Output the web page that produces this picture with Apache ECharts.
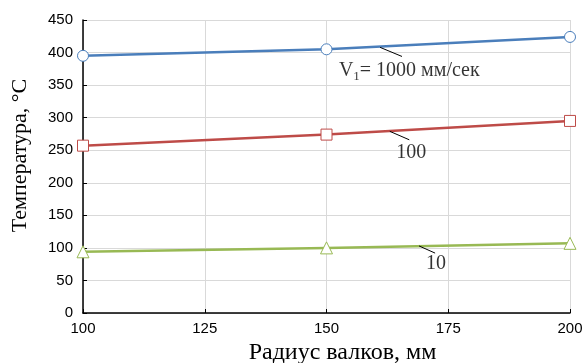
<!DOCTYPE html>
<html>
<head>
<meta charset="utf-8">
<script src="https://cdn.jsdelivr.net/npm/echarts@6/dist/echarts.min.js"></script>
<style>
  html, body { margin: 0; padding: 0; background: #fff; }
  #chart { width: 584px; height: 363px; }
</style>
</head>
<body>
<div id="chart"></div>
<script>
const radius = [100, 150, 200]
const v1000 = [395, 405, 424]
const v100 = [257, 274, 295]
const v10 = [94, 100, 107]

// labels: [x, y] in data units, and leader lines from curve to label
const labelPos = [[167, 372], [167.4, 246], [172.5, 76]]
const labelText = ['{a|V}{s|1}{a|= 1000 мм/сек}', '{a|100}', '{a|10}']
const leaders = [
  [[161, 408], [165.5, 394]],
  [[163, 279], [167, 266]],
  [[169, 103], [172.3, 92]]
]

const colors = ['#4a7ebb', '#be4b48', '#98b954']
const symbols = ['circle', 'rect', 'triangle']
const values = [v1000, v100, v10]

const chart = echarts.init(document.getElementById('chart'))

const lineSeries = values.map((vals, i) => ({
  type: 'line',
  data: radius.map((r, j) => [r, vals[j]]),
  symbol: symbols[i],
  symbolSize: i === 2 ? 12 : 11,
  showAllSymbol: true,
  lineStyle: { color: colors[i], width: 2.5 },
  itemStyle: { color: '#fff', borderColor: colors[i], borderWidth: 1 },
  z: 3,
  markLine: {
    silent: true,
    symbol: 'none',
    label: { show: false },
    lineStyle: { color: '#000', width: 1, type: 'solid' },
    data: [[{ coord: leaders[i][0] }, { coord: leaders[i][1] }]]
  }
}))

const labelSeries = {
  type: 'scatter',
  symbolSize: 0,
  silent: true,
  data: labelPos.map((p, i) => ({ value: p, text: labelText[i] })),
  label: {
    show: true,
    position: 'inside',
    formatter: p => p.data.text,
    rich: {
      a: { fontFamily: 'Liberation Serif', fontSize: 20, color: '#000' },
      s: { fontFamily: 'Liberation Serif', fontSize: 13, color: '#000', padding: [12, 0, 0, 0] }
    }
  }
}

chart.setOption({
  animation: false,
  grid: { left: 83, right: 14, top: 20, bottom: 50, outerBoundsMode: 'none', containLabel: false },
  xAxis: {
    type: 'value',
    min: 100, max: 200, interval: 25,
    name: 'Радиус валков, мм',
    nameLocation: 'middle',
    nameGap: 27,
    nameTextStyle: { fontFamily: 'Liberation Serif', fontSize: 24, color: '#000', padding: [0, 0, 0, 32] },
    axisLine: { show: true, lineStyle: { color: '#000', width: 1.5 } },
    axisTick: { show: true, inside: true, length: 4, lineStyle: { color: '#000' } },
    axisLabel: { fontFamily: 'Liberation Sans', fontSize: 15, color: '#000', margin: 8 },
    splitLine: { show: true, lineStyle: { color: '#d9d9d9' } }
  },
  yAxis: {
    type: 'value',
    min: 0, max: 450, interval: 50,
    name: 'Температура, °C',
    nameLocation: 'middle',
    nameGap: 52,
    nameTextStyle: { fontFamily: 'Liberation Serif', fontSize: 22, color: '#000', padding: [0, 0, 0, 22] },
    axisLine: { show: true, lineStyle: { color: '#000', width: 1.5 } },
    axisTick: { show: true, inside: true, length: 4, lineStyle: { color: '#000' } },
    axisLabel: { fontFamily: 'Liberation Sans', fontSize: 15, color: '#000', margin: 10 },
    splitLine: { show: true, lineStyle: { color: '#d9d9d9' } }
  },
  series: [...lineSeries, labelSeries]
})
</script>
</body>
</html>
